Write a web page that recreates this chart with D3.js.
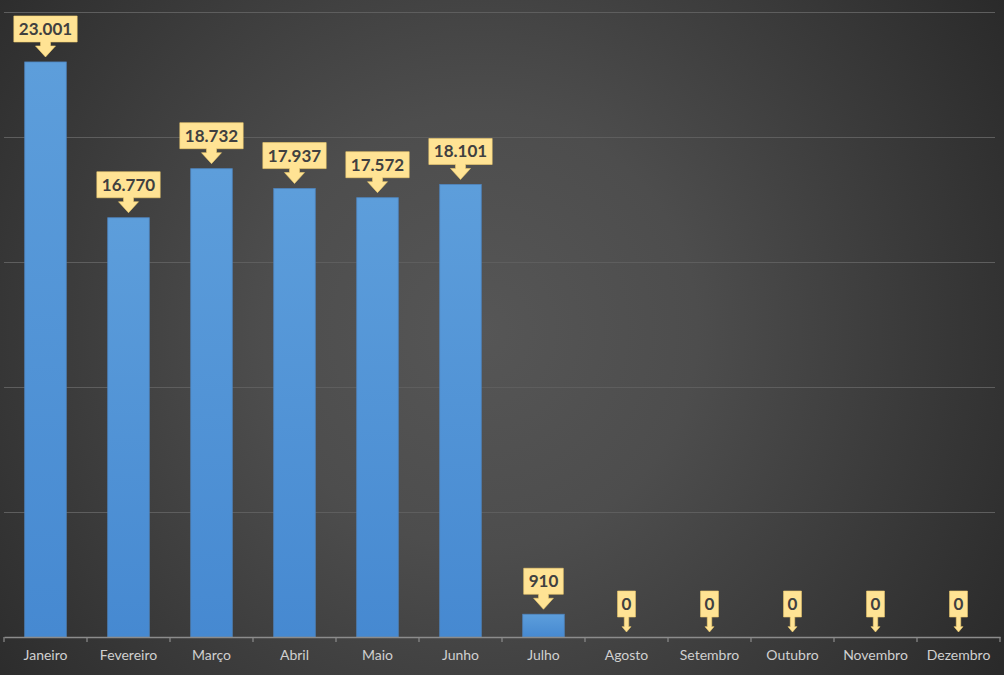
<!DOCTYPE html>
<html>
<head>
<meta charset="utf-8">
<script src="https://cdn.jsdelivr.net/npm/d3@7"></script>
<style>
  body { margin: 0; background: #2b2b2b; }
  #canvas svg { display: block; }
</style>
</head>
<body>
<div id="canvas"></div>
<script>
"use strict"

/* Data */
let months = ["Janeiro", "Fevereiro", "Março", "Abril", "Maio", "Junho",
    "Julho", "Agosto", "Setembro", "Outubro", "Novembro", "Dezembro"];
let values = [23001, 16770, 18732, 17937, 17572, 18101, 910, 0, 0, 0, 0, 0];
let valueLabels = ["23.001", "16.770", "18.732", "17.937", "17.572", "18.101", "910", "0", "0", "0", "0", "0"];
let gridValues = [5000, 10000, 15000, 20000, 25000];

/* Drawing config */
let svgWidth = 1004;
let svgHeight = 675;
let left = 4, right = 1000, baseline = 637;
let labelFont = "Lato, 'Open Sans', sans-serif";

let svg = d3.select("#canvas")
    .append("svg")
    .attr("width", svgWidth)
    .attr("height", svgHeight);

let defs = svg.append("defs");

/* background radial gradient */
let bg = defs.append("radialGradient")
    .attr("id", "bg")
    .attr("gradientUnits", "userSpaceOnUse")
    .attr("cx", 480).attr("cy", 330).attr("r", 620);
bg.append("stop").attr("offset", "0%").attr("stop-color", "#565656");
bg.append("stop").attr("offset", "35%").attr("stop-color", "#4d4d4d");
bg.append("stop").attr("offset", "70%").attr("stop-color", "#3a3a3a");
bg.append("stop").attr("offset", "100%").attr("stop-color", "#2a2a2a");

/* bar gradient */
let barGrad = defs.append("linearGradient")
    .attr("id", "barGrad")
    .attr("x1", 0).attr("y1", 0).attr("x2", 0).attr("y2", 1);
barGrad.append("stop").attr("offset", "0%").attr("stop-color", "#5d9edb");
barGrad.append("stop").attr("offset", "100%").attr("stop-color", "#4689d1");

svg.append("rect")
    .attr("width", svgWidth)
    .attr("height", svgHeight)
    .attr("fill", "url(#bg)");

/* Scales */
let xScale = d3.scaleBand()
    .domain(months)
    .range([left, right])
    .paddingInner(0.5)
    .paddingOuter(0.25);

let yScale = d3.scaleLinear()
    .domain([0, 25000])
    .range([baseline, baseline - 625]);

/* gridlines */
svg.append("g")
    .selectAll("line")
    .data(gridValues)
    .join("line")
    .attr("x1", left)
    .attr("x2", 995)
    .attr("y1", d => Math.round(yScale(d)) + 0.5)
    .attr("y2", d => Math.round(yScale(d)) + 0.5)
    .attr("stroke", "#5e5e5e")
    .attr("stroke-width", 1);

/* bars */
let data = months.map((m, i) => ({month: m, value: values[i], label: valueLabels[i]}));

svg.append("g")
    .selectAll("rect")
    .data(data.filter(d => d.value > 0))
    .join("rect")
    .attr("x", d => xScale(d.month))
    .attr("y", d => yScale(d.value))
    .attr("width", xScale.bandwidth())
    .attr("height", d => baseline - yScale(d.value))
    .attr("fill", "url(#barGrad)")
    .attr("stroke", "#4f86c0")
    .attr("stroke-width", 0.8);

/* x axis */
let xAxis = d3.axisBottom(xScale).tickSize(0).tickPadding(13);
let axisG = svg.append("g")
    .attr("transform", "translate(0," + baseline + ")")
    .call(xAxis);
axisG.select(".domain")
    .attr("stroke", "#8c8c8c")
    .attr("stroke-width", 1.5);
axisG.selectAll("text")
    .attr("fill", "#d0d0d0")
    .attr("font-family", labelFont)
    .attr("font-size", 14);

/* tick marks at category boundaries */
let boundaries = d3.range(months.length + 1).map(i => left + i * xScale.step());
axisG.selectAll("line.bound")
    .data(boundaries)
    .join("line")
    .attr("class", "bound")
    .attr("x1", d => d).attr("x2", d => d)
    .attr("y1", 0).attr("y2", 5)
    .attr("stroke", "#8c8c8c")
    .attr("stroke-width", 1.2);

/* callout labels */
let callouts = svg.append("g")
    .selectAll("g")
    .data(data)
    .join("g");

callouts.each(function (d) {
    let g = d3.select(this);
    let cx = xScale(d.month) + xScale.bandwidth() / 2;
    let top = yScale(d.value);
    let text = g.append("text")
        .attr("x", cx)
        .attr("text-anchor", "middle")
        .attr("font-family", labelFont)
        .attr("font-weight", "bold")
        .attr("font-size", 17)
        .attr("fill", "#404040")
        .text(d.label);
    let tw = text.node().getComputedTextLength();
    let pad = d.label.length > 1 ? 5 : 4;
    let bw = tw + pad * 2;
    let bh = 26;
    let boxBottom = top - 20;
    let tip = top - 5;
    let headW = Math.min(20, bw * 0.5);
    let stemW = headW * 0.5;
    let headH = Math.min(11, headW * 0.6);

    g.insert("path", "text")
        .attr("d", [
            "M", cx - bw / 2, boxBottom - bh,
            "L", cx + bw / 2, boxBottom - bh,
            "L", cx + bw / 2, boxBottom,
            "L", cx + stemW / 2, boxBottom,
            "L", cx + stemW / 2, tip - headH,
            "L", cx + headW / 2, tip - headH,
            "L", cx, tip,
            "L", cx - headW / 2, tip - headH,
            "L", cx - stemW / 2, tip - headH,
            "L", cx - stemW / 2, boxBottom,
            "L", cx - bw / 2, boxBottom,
            "Z"].join(" "))
        .attr("fill", "#ffe394")
        .attr("stroke", "#f2cf6e")
        .attr("stroke-width", 0.6);

    text.attr("y", boxBottom - bh / 2 + 6);
});
</script>
</body>
</html>
